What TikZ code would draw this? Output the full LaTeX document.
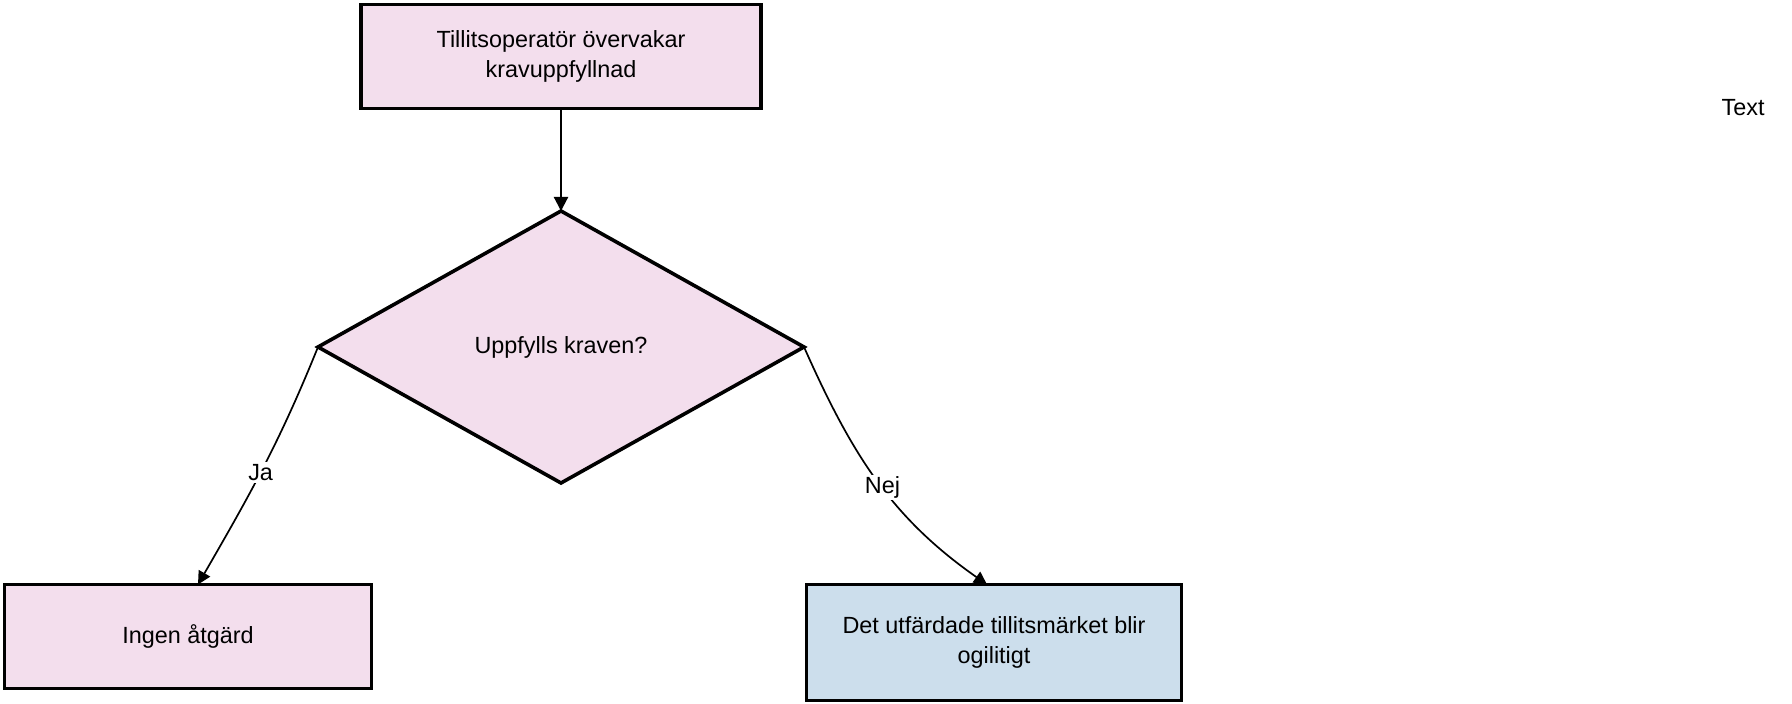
\documentclass[tikz,border=0pt]{standalone}
\usepackage{fontspec}
\setmainfont{Liberation Sans}
\usetikzlibrary{shapes.geometric, arrows.meta}
\definecolor{boxpink}{RGB}{243,222,237}
\definecolor{boxblue}{RGB}{204,222,236}
\tikzset{box node/.style={rectangle,fill=boxpink,draw,line width=1.8pt,align=center,font=\fontsize{11.7}{15}\selectfont,inner sep=0pt,outer sep=0pt}}
\tikzset{decision node/.style={diamond,fill=boxpink,draw,line width=1.8pt,font=\fontsize{11.7}{15}\selectfont,inner sep=0pt,outer sep=0pt,minimum width=243pt,minimum height=136pt}}
\tikzset{label node/.style={fill=white,font=\fontsize{11.7}{15}\selectfont,inner sep=1pt}}

\begin{document}
\begin{tikzpicture}[x=0.5pt,y=-0.5pt]
            \useasboundingbox (0,0) rectangle (1792,704);
            \node[box node,minimum width=200pt,minimum height=52pt] (monitor) at (561,56.5) {Tillitsoperatör övervakar\\kravuppfyllnad};
            \node[decision node] (check) at (561,347) {Uppfylls kraven?};
            \node[box node,minimum width=183.5pt,minimum height=52pt] (none) at (188,636.5) {Ingen åtgärd};
            \node[box node,fill=boxblue,minimum width=187.5pt,minimum height=58pt] (invalid) at (994,642.5) {Det utfärdade tillitsmärket blir\\ogilitigt};
            \node[font=\fontsize{11.7}{15}\selectfont] (text) at (1743,108) {Text};

            \path[draw, line width=1.1pt]
            (monitor.south) edge[-{Triangle[length=7pt,width=7pt]}] (check.north);
            \path[draw, line width=0.85pt]
            (check.west) edge[-{Triangle[length=6.5pt,width=6.5pt]},out=-112,in=60] node[label node,pos=0.52] {Ja} ([xshift=5pt]none.north)
            (check.east) edge[-{Triangle[length=6.5pt,width=6.5pt]},out=-66,in=145] node[label node,pos=0.53] {Nej} ([xshift=-3.5pt]invalid.north);
        \end{tikzpicture}
\end{document}
